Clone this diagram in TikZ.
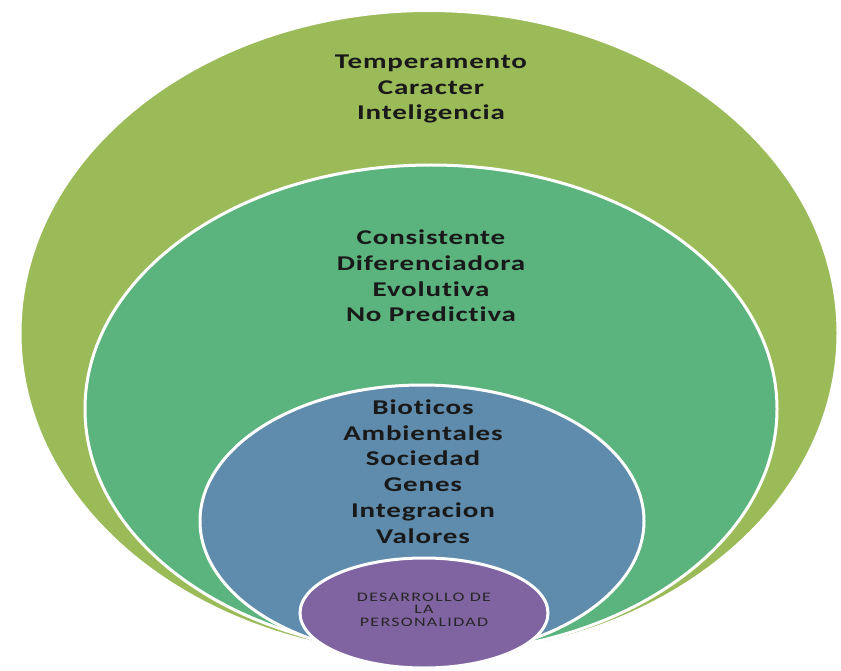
\documentclass[tikz,border=0pt]{standalone}
\usepackage{fontspec}
\usepackage{xcolor}
\usetikzlibrary{shapes.geometric}
\newfontfamily\diagfont[FakeStretch=1.38,LetterSpace=4,Ligatures=CommonOff]{Carlito}
\newfontfamily\smallfont[FakeStretch=1.38,LetterSpace=10,Ligatures=CommonOff]{Carlito}
\definecolor{olivo}{HTML}{9BBB59}
\definecolor{verde}{HTML}{5BB37E}
\definecolor{azul}{HTML}{5F8BAC}
\definecolor{morado}{HTML}{8064A2}
\tikzset{
  capa/.style={ellipse, inner sep=0pt, draw=white, line width=3pt},
  texto/.style={align=center, text=black!90,
    font={\diagfont\bfseries\fontsize{21}{25.8}\selectfont}},
  centro/.style={align=center, text=black!85,
    font={\smallfont\fontsize{13}{12.6}\selectfont}}
}
\begin{document}
\begin{tikzpicture}[x=1pt,y=-1pt]
\useasboundingbox[fill=white] (0,0) rectangle (841,671);
%capas
\node[capa, fill=olivo, minimum width=818pt, minimum height=645pt] (olivo) at (429,333) {};
\node[capa, fill=verde, minimum width=692pt, minimum height=488pt] (verde) at (431,409) {};
\node[capa, fill=azul, minimum width=444pt, minimum height=272pt] (azul) at (422,521) {};
\node[capa, fill=morado, minimum width=248pt, minimum height=110pt] (morado) at (424,613) {};
%textos
\node[texto] (rasgos) at (431,89) {Temperamento\\Caracter\\Inteligencia};
\node[texto] (propiedades) at (431,276) {Consistente\\Diferenciadora\\Evolutiva\\No Predictiva};
\node[texto] (factores) at (423,471.5) {Bioticos\\Ambientales\\Sociedad\\Genes\\Integracion\\Valores};
\node[centro] (desarrollo) at (424,609.5) {DESARROLLO DE\\LA\\PERSONALIDAD};
\end{tikzpicture}
\end{document}
